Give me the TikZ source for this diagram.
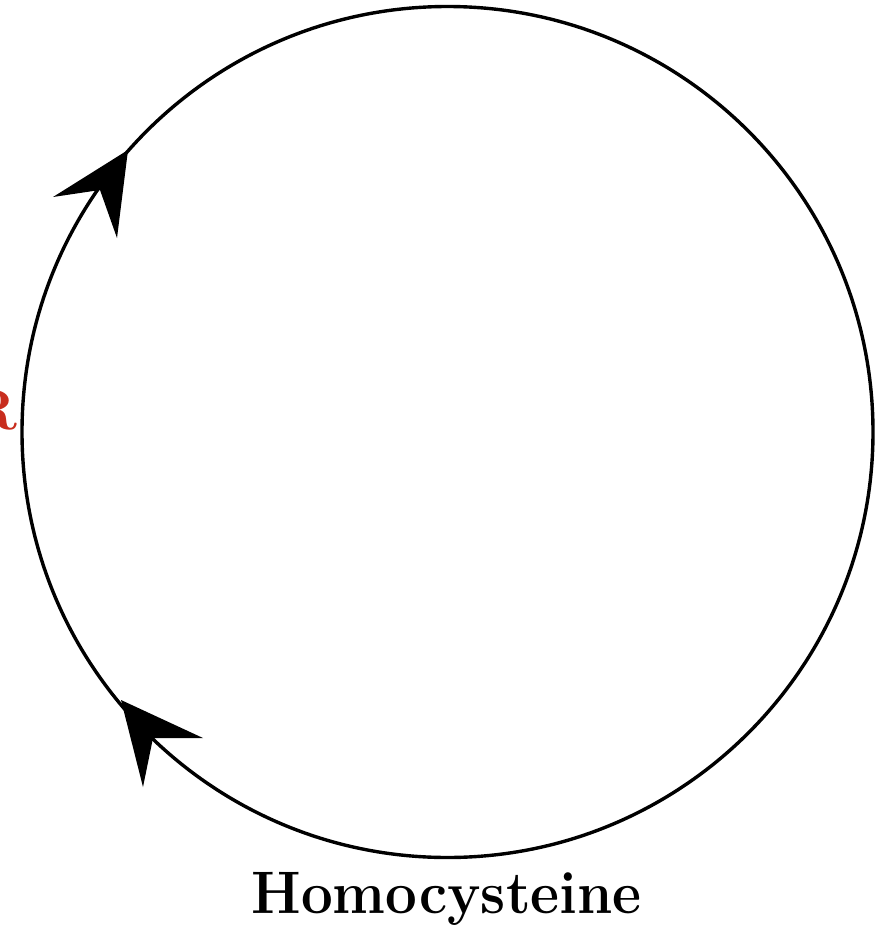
\documentclass[tikz,border=0pt]{standalone}
\usepackage{xcolor}
\definecolor{redtxt}{RGB}{200,45,30}
\begin{document}
\begin{tikzpicture}[x=1pt,y=-1pt,
  ring/.style={circle,draw=black,line width=3.4pt,minimum size=851pt,inner sep=0pt},
  arrowhd/.style={fill=black,draw=none},
  lbl/.style={font=\bfseries\fontsize{60}{66}\selectfont,inner sep=0pt}]
\clip (0,0) rectangle (884,929);
\node[ring] (cyc) at (447.5,432) {};
\fill[arrowhd] (128,150) -- (53,197) -- (100,190) -- (117,238) -- cycle;
\fill[arrowhd] (121,700) -- (203,738) -- (153,738) -- (143,787) -- cycle;
\node[lbl,anchor=base,text=black] (homo) at (446.5,913) {\scalebox{0.94}[1]{Homocysteine}};
\node[lbl,anchor=base east,text=redtxt] (rtxt) at (18,429) {\fontsize{57}{62}\selectfont R};
\end{tikzpicture}
\end{document}
